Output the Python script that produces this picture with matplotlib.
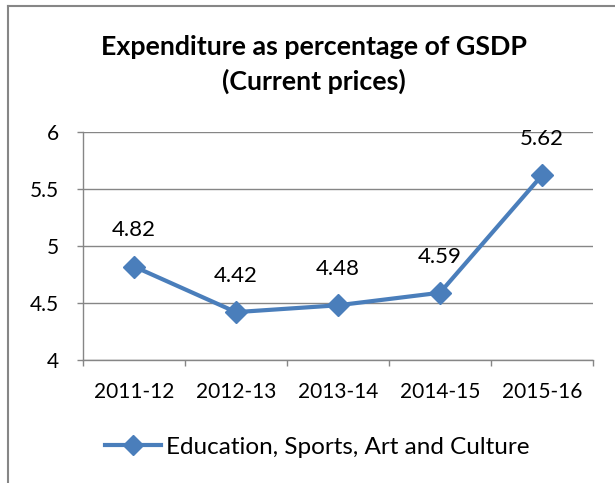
import matplotlib
matplotlib.use("Agg")
import matplotlib.pyplot as plt
from matplotlib.lines import Line2D

plt.rcParams['font.family'] = ['Lato', 'DejaVu Sans']

years = ["2011-12", "2012-13", "2013-14", "2014-15", "2015-16"]
expenditure_pct = [4.82, 4.42, 4.48, 4.59, 5.62]
series_name = "Education, Sports, Art and Culture"
y_ticks = [4, 4.5, 5, 5.5, 6]
y_tick_labels = ["4", "4.5", "5", "5.5", "6"]

W, H = 615, 483
fig = plt.figure(figsize=(W / 100, H / 100), dpi=100)
fig.patch.set_facecolor("white")

ax = fig.add_axes([83 / W, 1 - 360 / H, (593 - 83) / W, (360 - 132) / H])

line_color = "#4A7EBB"
grid_color = "#868686"

x = list(range(len(years)))
ax.plot(x, expenditure_pct, color=line_color, lw=3.0, marker="D",
        markersize=11, markerfacecolor=line_color, markeredgecolor=line_color,
        label=series_name, zorder=3, clip_on=False)

for xi, v in zip(x, expenditure_pct):
    ax.annotate(f"{v:.2f}", (xi, v), xytext=(0, 26), textcoords="offset points",
                ha="center", va="center", fontsize=16, color="black")

ax.set_xlim(-0.5, len(years) - 0.5)
ax.set_ylim(4, 6)
ax.set_yticks(y_ticks)
ax.set_yticklabels(y_tick_labels)
ax.set_xticks(x)
ax.set_xticklabels(years)
ax.set_xticks([i - 0.5 for i in range(len(years) + 1)], minor=True)

ax.tick_params(axis="x", which="major", length=0, pad=16, labelsize=15)
ax.tick_params(axis="x", which="minor", length=4, width=1, color=grid_color, direction="out")
ax.tick_params(axis="y", length=4, width=1, color=grid_color, pad=13, labelsize=15)

ax.grid(axis="y", color=grid_color, lw=1.0)
ax.set_axisbelow(True)
for side in ("top", "right"):
    ax.spines[side].set_visible(False)
for side in ("left", "bottom"):
    ax.spines[side].set_color(grid_color)
    ax.spines[side].set_linewidth(1.0)

fig.text(314 / W, 1 - 47 / H, "Expenditure as percentage of GSDP",
         ha="center", va="center", fontsize=19.3, fontweight="bold")
fig.text(314 / W, 1 - 81 / H, "(Current prices)",
         ha="center", va="center", fontsize=19.3, fontweight="bold")

handle = Line2D([], [], color=line_color, lw=3.0, marker="D", markersize=10)
fig.legend([handle], [series_name], loc="center",
           bbox_to_anchor=(317 / W, 1 - 447 / H), frameon=False,
           fontsize=17.5, handlelength=2.3, handletextpad=0.2)

# chart frame (left and top edges)
fig.add_artist(Line2D([7.5 / W, 7.5 / W], [0, 1 - 6 / H], transform=fig.transFigure,
                      color=grid_color, lw=1.5))
fig.add_artist(Line2D([7.5 / W, 1], [1 - 6 / H, 1 - 6 / H], transform=fig.transFigure,
                      color=grid_color, lw=1.5))

fig.savefig("out.png", dpi=100)
